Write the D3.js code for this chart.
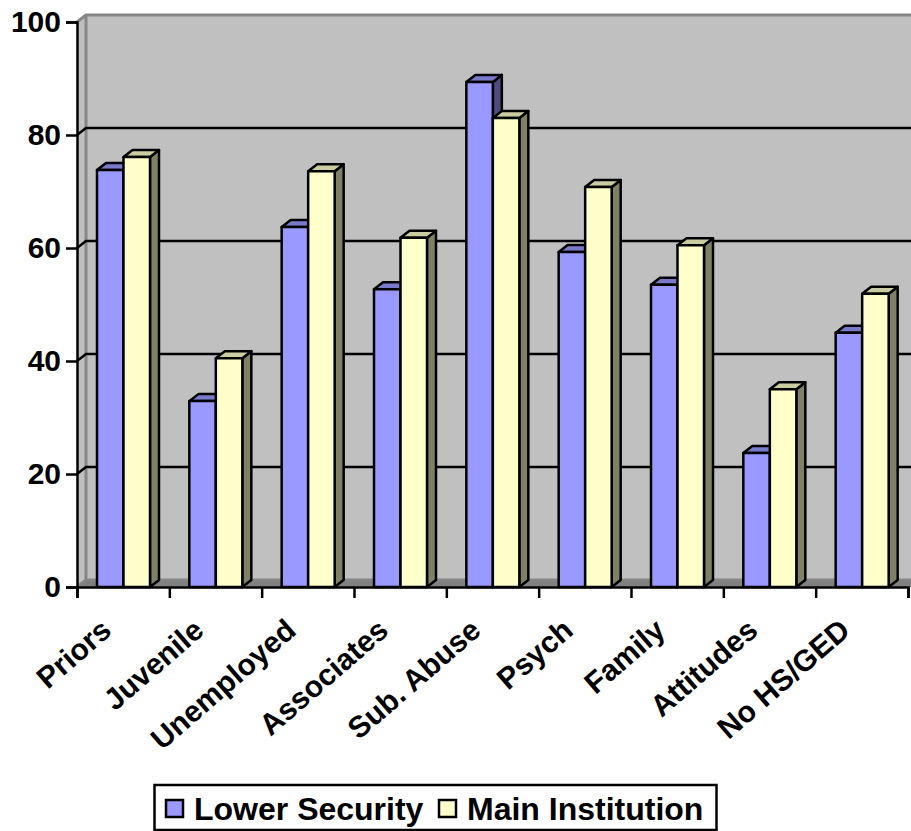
<!DOCTYPE html>
<html lang="en">
<head>
<meta charset="UTF-8">
<title>Risk factors</title>
<script src="https://cdn.jsdelivr.net/npm/d3@7"></script>
<style>
  html, body { margin: 0; padding: 0; background: #fff; }
  text { font-family: "Liberation Sans", Arial, sans-serif; font-weight: bold; fill: #000; }
</style>
</head>
<body>
<svg id="chart" width="911" height="831" style="display:block"></svg>
<script>
const categories = ["Priors", "Juvenile", "Unemployed", "Associates", "Sub. Abuse", "Psych", "Family", "Attitudes", "No HS/GED"];
const lowerSecurity = [73.8, 32.9, 63.7, 52.7, 89.4, 59.3, 53.5, 23.7, 45];
const mainInstitution = [76.1, 40.5, 73.6, 61.8, 83, 70.8, 60.5, 35, 51.9];
const yTicks = [0, 20, 40, 60, 80, 100];
const seriesNames = ["Lower Security", "Main Institution"];

const svg = d3.select("#chart");
const x0 = 77, x1 = 908, yBottom = 587, yTop = 22;
const dx = 9, dy = 7;      // 3d depth
const fontSize = 30;

const x = d3.scaleBand().domain(categories).range([x0, x1]).paddingInner(0).paddingOuter(0);
const y = d3.scaleLinear().domain([0, 100]).range([yBottom, yTop]);
const inner = d3.scaleBand().domain(seriesNames).range([20, 73]);

const pts = a => a.map(p => p.join(",")).join(" ");

// walls
svg.append("polygon")
  .attr("points", pts([[x0 + dx, yTop - dy], [911, yTop - dy], [911, yBottom - dy], [x0 + dx, yBottom - dy]]))
  .attr("fill", "#c0c0c0");
svg.append("polygon")
  .attr("points", pts([[x0, yTop], [x0 + dx, yTop - dy], [x0 + dx, yBottom - dy], [x0, yBottom]]))
  .attr("fill", "#c0c0c0");
svg.append("polygon")
  .attr("points", pts([[x0, yBottom], [x0 + dx, yBottom - dy], [911, yBottom - dy], [911, yBottom]]))
  .attr("fill", "#808080");
svg.append("path")
  .attr("d", `M${x0},${yTop}L${x0 + dx},${yTop - dy}H911M${x0 + dx},${yTop - dy}V${yBottom - dy}H911M${x0 + dx},${yBottom - dy}L${x0},${yBottom}`)
  .attr("fill", "none").attr("stroke", "#868686").attr("stroke-width", 3);

// gridlines
svg.selectAll(".grid").data(yTicks.filter(d => d > 0 && d < 100)).enter().append("path")
  .attr("class", "grid")
  .attr("d", d => `M${x0},${y(d)}L${x0 + dx},${y(d) - dy}H911`)
  .attr("fill", "none").attr("stroke", "#000").attr("stroke-width", 2.5);

// bars
const styles = [
  { front: "#9999ff", top: "#7a7acc", side: "#4d4d80" },
  { front: "#ffffcc", top: "#ccccA3", side: "#808066" }
];
[lowerSecurity, mainInstitution].forEach((vals, s) => {
  const g = svg.append("g").attr("stroke", "#000").attr("stroke-width", 2.5).attr("stroke-linejoin", "round");
  const left = (d, i) => x(categories[i]) + inner(seriesNames[s]);
  const right = (d, i) => left(d, i) + inner.bandwidth();
  g.selectAll(".side").data(vals).enter().append("polygon")
    .attr("points", (d, i) => pts([[right(d, i), y(d)], [right(d, i) + dx, y(d) - dy], [right(d, i) + dx, y(0) - dy], [right(d, i), y(0)]]))
    .attr("fill", styles[s].side);
  g.selectAll(".top").data(vals).enter().append("polygon")
    .attr("points", (d, i) => pts([[left(d, i), y(d)], [left(d, i) + dx, y(d) - dy], [right(d, i) + dx, y(d) - dy], [right(d, i), y(d)]]))
    .attr("fill", styles[s].top);
  g.selectAll(".front").data(vals).enter().append("rect")
    .attr("x", left).attr("y", d => y(d))
    .attr("width", inner.bandwidth()).attr("height", d => y(0) - y(d))
    .attr("fill", styles[s].front);
});

// axes
const yAxis = d3.axisLeft(y).tickValues(yTicks).tickSize(11).tickPadding(5);
const gy = svg.append("g").attr("transform", `translate(${x0},0)`).call(yAxis);
gy.selectAll("path,line").attr("stroke", "#000").attr("stroke-width", 2.5);
gy.selectAll("text").attr("font-size", fontSize);

const xEdges = d3.scaleLinear().domain([0, categories.length]).range([x0, x1]);
const xAxis = d3.axisBottom(xEdges).ticks(categories.length).tickFormat("").tickSize(11);
const gx = svg.append("g").attr("transform", `translate(0,${yBottom})`).call(xAxis);
gx.selectAll("path,line").attr("stroke", "#000").attr("stroke-width", 2.5);

svg.selectAll(".xlabel").data(categories).enter().append("text")
  .attr("class", "xlabel")
  .attr("font-size", fontSize)
  .attr("text-anchor", "end")
  .attr("transform", d => `translate(${x(d) + x.bandwidth() / 2 - 10},${yBottom + 46}) rotate(-41)`)
  .text(d => d);

// legend
svg.append("rect").attr("x", 154.5).attr("y", 785).attr("width", 562).attr("height", 45)
  .attr("fill", "#fff").attr("stroke", "#000").attr("stroke-width", 2.5);
const legendX = [166, 439];
const legendTextX = [194, 467];
seriesNames.forEach((name, i) => {
  svg.append("rect").attr("x", legendX[i]).attr("y", 800).attr("width", 17).attr("height", 17)
    .attr("fill", styles[i].front).attr("stroke", "#000").attr("stroke-width", 2.5);
  svg.append("text").attr("x", legendTextX[i]).attr("y", 820).attr("font-size", 32).text(name);
});
</script>
</body>
</html>
